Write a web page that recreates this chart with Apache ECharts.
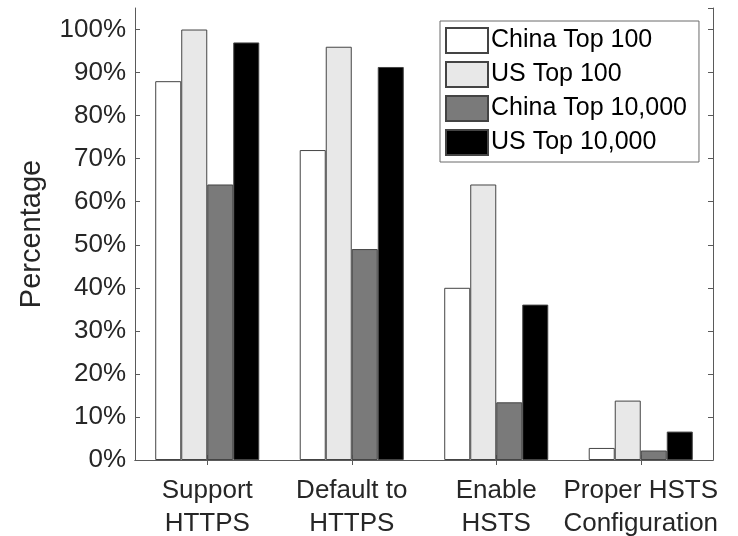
<!DOCTYPE html>
<html>
<head>
<meta charset="utf-8">
<script src="https://cdn.jsdelivr.net/npm/echarts@6/dist/echarts.min.js"></script>
<style>html,body{margin:0;padding:0;background:#fff;}#c{width:738px;height:536px;}</style>
</head>
<body>
<div id="c"></div>
<script>
const categories = ['Support\nHTTPS', 'Default to\nHTTPS', 'Enable\nHSTS', 'Proper HSTS\nConfiguration'];
const seriesNames = ['China Top 100', 'US Top 100', 'China Top 10,000', 'US Top 10,000'];
const chinaTop100 = [88, 72, 40, 2.8];
const usTop100 = [100, 96, 64, 13.8];
const chinaTop10k = [64, 49, 13.4, 2.2];
const usTop10k = [97, 91.3, 36.1, 6.6];
const yTicks = [0, 10, 20, 30, 40, 50, 60, 70, 80, 90, 100];

const colors = ['#ffffff', '#e8e8e8', '#7a7a7a', '#000000'];
const dataSets = [chinaTop100, usTop100, chinaTop10k, usTop10k];
const font = 'Liberation Sans, Arial, Helvetica, sans-serif';
const axisCol = '#5a5a5a';

const chart = echarts.init(document.getElementById('c'), null, {renderer: 'canvas'});
chart.setOption({
  animation: false,
  backgroundColor: '#fff',
  grid: {left: 135, right: 25, top: 8, bottom: 76, show: false, containLabel: false, outerBoundsMode: 'none'},
  legend: {
    orient: 'vertical', left: 440, top: 21,
    data: seriesNames,
    itemWidth: 42, itemHeight: 25, itemGap: 7,
    padding: [6, 12, 6, 5],
    borderColor: '#6a6a6a', borderWidth: 1, backgroundColor: '#fff',
    icon: 'rect',
    textStyle: {fontFamily: font, fontSize: 25, lineHeight: 25, color: '#000', padding: [0, 0, 0, -2]}
  },
  xAxis: [{
    type: 'category', data: categories, position: 'bottom',
    axisLine: {lineStyle: {color: axisCol, width: 1}},
    axisTick: {show: true, inside: true, alignWithLabel: true, length: 5, lineStyle: {color: axisCol}},
    axisLabel: {fontFamily: font, fontSize: 26, color: '#262626', lineHeight: 33, margin: 14, interval: 0, hideOverlap: false}
  }, {
    type: 'category', data: categories, position: 'top',
    axisLine: {show: true, lineStyle: {color: axisCol, width: 1}},
    axisTick: {show: true, inside: true, alignWithLabel: true, length: 5, lineStyle: {color: axisCol}},
    axisLabel: {show: false}
  }],
  yAxis: [{
    type: 'value', min: 0, max: 105, interval: 10, position: 'left',
    name: 'Percentage', nameLocation: 'middle', nameGap: 89,
    nameTextStyle: {fontFamily: font, fontSize: 29, color: '#262626'},
    axisLine: {show: true, lineStyle: {color: axisCol, width: 1}},
    axisTick: {show: true, inside: true, length: 5, lineStyle: {color: axisCol}},
    axisLabel: {fontFamily: font, fontSize: 26, color: '#262626', margin: 9, showMaxLabel: false,
      formatter: v => yTicks.indexOf(v) >= 0 ? v + '%' : ''},
    splitLine: {show: false}
  }, {
    type: 'value', min: 0, max: 105, interval: 10, position: 'right',
    axisLine: {show: true, lineStyle: {color: axisCol, width: 1}},
    axisTick: {show: true, inside: true, length: 5, lineStyle: {color: axisCol}},
    axisLabel: {show: false},
    splitLine: {show: false}
  }],
  series: seriesNames.map((n, i) => ({
    name: n, type: 'bar', data: dataSets[i],
    barWidth: '18%', barGap: '0%',
    itemStyle: {color: colors[i], borderColor: '#444', borderWidth: 1}
  }))
});
</script>
</body>
</html>
